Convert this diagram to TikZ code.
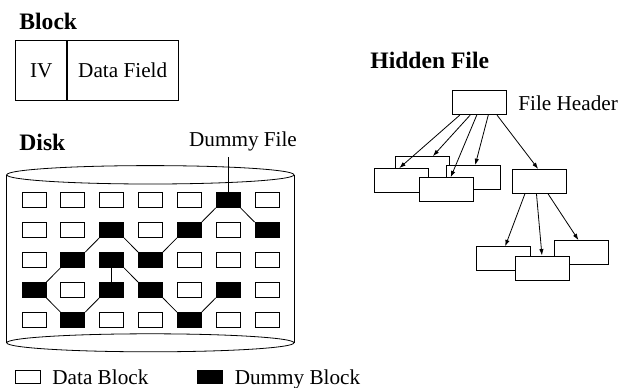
\documentclass[tikz,border=0pt]{standalone}
\usepackage{fontspec}
\setmainfont{Liberation Serif}
\usetikzlibrary{arrows.meta,positioning,calc}

\begin{document}
\begin{tikzpicture}[
    x=0.5pt, y=-0.5pt,
    title/.style={anchor=base west, inner sep=0pt, font=\fontsize{11.8}{14}\selectfont\bfseries},
    label/.style={inner sep=0pt, font=\fontsize{10.6}{13}\selectfont},
    cell/.style={draw, thin, minimum width=12pt, minimum height=7.5pt, inner sep=0pt},
    blk0/.style={cell, fill=white},
    blk1/.style={cell, fill=black},
    filebox/.style={draw, thin, fill=white, minimum width=27pt, minimum height=12pt, inner sep=0pt},
    arrow/.style={-{Latex[length=3.2pt,width=2.2pt]}, thin}
]
\useasboundingbox (0,0) rectangle (622,387);

% Block layout
\node[title] (blocktitle) at (19,29.3) {Block};
\node[draw, thin, minimum width=25.5pt, minimum height=29.7pt, inner sep=0pt, label] (iv) at (41.2,70.3) {IV};
\node[draw, thin, minimum width=55.2pt, minimum height=29.7pt, inner sep=0pt, label, anchor=west] (field) at (iv.east) {Data Field};

% Disk
\node[title] (disktitle) at (19,150.7) {Disk};
\draw[thin] (150.35,174.8) ellipse [x radius=71.8pt, y radius=4.6pt];
\draw[thin] (6.7,174.8) -- (6.7,342.8);
\draw[thin] (294,174.8) -- (294,342.8);
\draw[thin] (150.35,342.8) ellipse [x radius=71.8pt, y radius=4.5pt];

% Blocks on the disk (1 = dummy block)
\foreach \pattern [count=\r] in {{0,0,0,0,0,1,0},{0,0,1,0,1,0,1},{0,1,1,1,0,0,0},{1,0,1,1,0,1,0},{0,1,0,0,1,0,0}}
  \foreach \k [count=\c] in \pattern
    \node[blk\k] (b-\c-\r) at ({34+38.83*(\c-1)},{200+30*(\r-1)}) {};

% Dummy file
\node[label, anchor=south, inner sep=2.8pt] (dummy) at (243,157) {Dummy File};
\draw[thin] (dummy.south -| b-6-1.north) -- (b-6-1.north);
\foreach \a/\b in {b-6-1.south east/b-7-2.north west, b-6-1.south west/b-5-2.north east,
    b-5-2.south west/b-4-3.north east, b-4-3.north west/b-3-2.south east,
    b-3-2.south west/b-2-3.north east, b-2-3.south west/b-1-4.north east,
    b-1-4.south east/b-2-5.north west, b-2-5.north east/b-3-4.south west,
    b-3-4.north/b-3-3.south, b-3-3.south east/b-4-4.north west,
    b-4-4.south east/b-5-5.north west, b-5-5.north east/b-6-4.south west}
  \draw[thin] (\a) -- (\b);

% Hidden file
\node[title] (hiddentitle) at (370,68.3) {Hidden File};
\node[filebox] (hdr) at (479.5,102.7) {};
\node[label, anchor=west] (hdrlabel) at (518,103) {File Header};

\node[filebox] (fa) at (422.5,168.5) {};
\node[filebox] (fb) at (401.5,180.5) {};
\node[filebox] (fc) at (473,177.5) {};
\node[filebox] (fd) at (446.3,189.7) {};
\node[filebox] (fe) at (539.2,181.3) {};

\node[filebox] (ff) at (503,258.7) {};
\node[filebox] (fg) at (581.2,252.5) {};
\node[filebox] (fh) at (542.5,267.9) {};

\draw[arrow] ($(hdr.south west)!0.14!(hdr.south east)$) -- ($(fb.north west)!0.46!(fb.north east)$);
\draw[arrow] ($(hdr.south west)!0.33!(hdr.south east)$) -- ($(fa.north west)!0.69!(fa.north east)$);
\draw[arrow] ($(hdr.south west)!0.45!(hdr.south east)$) -- ($(fd.north west)!0.58!(fd.north east)$);
\draw[arrow] ($(hdr.south west)!0.66!(hdr.south east)$) -- ($(fc.north west)!0.54!(fc.north east)$);
\draw[arrow] ($(hdr.south west)!0.82!(hdr.south east)$) -- ($(fe.north west)!0.48!(fe.north east)$);

\draw[arrow] ($(fe.south west)!0.24!(fe.south east)$) -- ($(ff.north west)!0.54!(ff.north east)$);
\draw[arrow] ($(fe.south west)!0.45!(fe.south east)$) -- ($(fh.north west)!0.49!(fh.north east)$);
\draw[arrow] ($(fe.south west)!0.66!(fe.south east)$) -- ($(fg.north west)!0.45!(fg.north east)$);

% Legend
\node[blk0, minimum width=12.2pt, minimum height=6.7pt] (keydata) at (27.8,376.7) {};
\node[label, text depth=0pt, right=5.8pt of keydata] (keydatatext) {Data Block};
\node[blk1, minimum width=12.2pt, minimum height=6.7pt] (keydummy) at (210,376.7) {};
\node[label, text depth=0pt, right=5.9pt of keydummy] (keydummytext) {Dummy Block};

\end{tikzpicture}
\end{document}
